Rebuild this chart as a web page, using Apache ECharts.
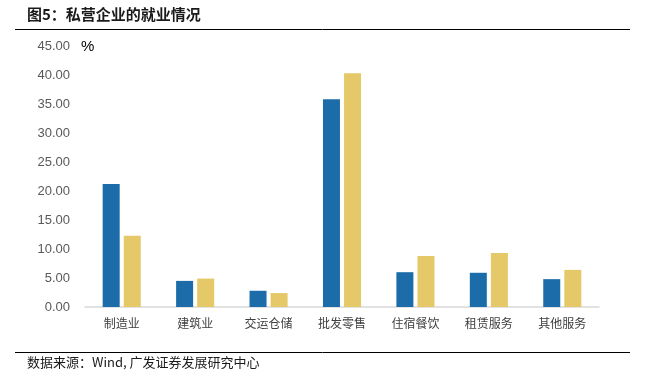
<!DOCTYPE html>
<html><head><meta charset="utf-8">
<script src="https://cdn.jsdelivr.net/npm/echarts@6/dist/echarts.min.js"></script>
<style>html,body{margin:0;padding:0;background:#fff}#c{width:646px;height:383px}</style>
</head><body><div id="c"></div>
<script>
var categories = ['制造业','建筑业','交运仓储','批发零售','住宿餐饮','租赁服务','其他服务'];
var seriesA = [21.2, 4.5, 2.8, 35.8, 6.0, 5.9, 4.8];
var seriesB = [12.3, 4.9, 2.4, 40.3, 8.8, 9.3, 6.4];
var yTicks = {min: 0, max: 45, interval: 5};
var titleText = '图5：私营企业的就业情况';
var sourceText = '数据来源：Wind, 广发证券发展研究中心';
var unitText = '%';

var chart = echarts.init(document.getElementById('c'));
chart.setOption({
  animation: false,
  grid: {left: 85, right: 47, top: 46, bottom: 76},
  xAxis: {
    type: 'category', data: categories,
    axisLine: {lineStyle: {color: '#d9d9d9', width: 1.5}},
    axisTick: {show: false},
    axisLabel: {color: '#404040', fontSize: 12, margin: 10, fontFamily: 'Noto Sans CJK SC'}
  },
  yAxis: {
    type: 'value', min: yTicks.min, max: yTicks.max, interval: yTicks.interval,
    splitLine: {show: false}, axisLine: {show: false}, axisTick: {show: false},
    axisLabel: {color: '#595959', fontSize: 13, margin: 15, fontFamily: 'Arial, Liberation Sans',
      formatter: function(v){return v.toFixed(2);}}
  },
  series: [
    {type: 'bar', data: seriesA, barWidth: 17, barGap: '24%', itemStyle: {color: '#1B6CA8'}},
    {type: 'bar', data: seriesB, barWidth: 17, itemStyle: {color: '#E5C867'}}
  ],
  graphic: [
    {type: 'text', left: 27, top: 7, style: {text: titleText, font: 'bold 15px "Noto Sans CJK SC"', fill: '#1a1a1a'}},
    {type: 'line', shape: {x1: 15, y1: 29.5, x2: 630, y2: 29.5}, style: {stroke: '#000', lineWidth: 1}},
    {type: 'text', left: 81, top: 39, style: {text: unitText, font: '15px Arial, "Liberation Sans"', fill: '#000'}},
    {type: 'line', shape: {x1: 15, y1: 352.5, x2: 630, y2: 352.5}, style: {stroke: '#000', lineWidth: 1}},
    {type: 'text', left: 27, top: 356, style: {text: sourceText, font: '13px "Noto Sans CJK SC"', fill: '#1a1a1a'}}
  ]
});
</script></body></html>
